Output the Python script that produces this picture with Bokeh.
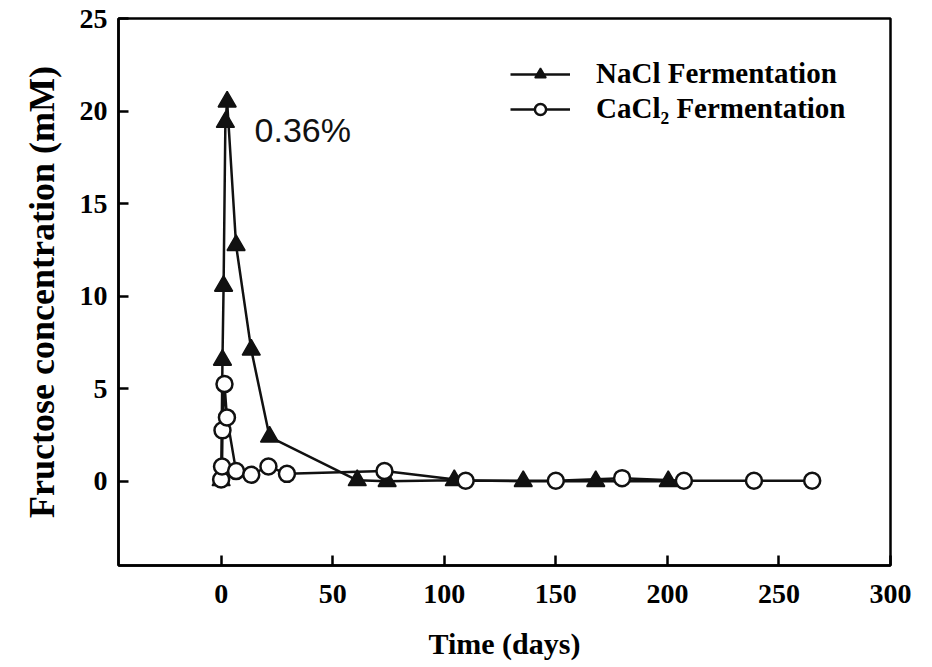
from bokeh.plotting import figure
from bokeh.models import Range1d, FixedTicker, Legend, LegendItem, Label
from bokeh.embed import file_html
from bokeh.resources import INLINE

# Fructose concentration (mM) over fermentation time (days)
nacl_days = [0, 0.6, 1.1, 1.9, 2.7, 6.7, 13.5, 21.7, 61, 74.4, 104.5, 135.4, 167.9, 200.4]
nacl_conc = [0.05, 6.55, 10.55, 19.4, 20.5, 12.75, 7.1, 2.4, 0.05, 0.0, 0.05, 0.0, 0.0, 0.0]

cacl2_days = [0, 0.4, 0.6, 1.5, 2.6, 6.7, 13.5, 21.2, 29.5, 73.2, 109.6, 150, 179.7, 207.4, 238.8, 264.9]
cacl2_conc = [0.1, 0.8, 2.75, 5.25, 3.45, 0.55, 0.35, 0.8, 0.4, 0.55, 0.03, 0.03, 0.17, 0.03, 0.03, 0.03]

x_ticks = [0, 50, 100, 150, 200, 250, 300]
y_ticks = [0, 5, 10, 15, 20, 25]

SERIF = "Liberation Serif"

p = figure(width=932, height=667, output_backend="svg", toolbar_location=None,
           x_range=Range1d(-46, 300), y_range=Range1d(-4.55, 25),
           min_border_left=118, min_border_right=42, min_border_top=18, min_border_bottom=102)

p.background_fill_color = "white"
p.border_fill_color = "white"
p.grid.visible = False
p.outline_line_color = "black"
p.outline_line_width = 2.5

for ax in (p.xaxis[0], p.yaxis[0]):
    ax.axis_line_width = 2.5
    ax.major_tick_line_width = 2.5
    ax.major_tick_in = 10
    ax.major_tick_out = 0
    ax.minor_tick_line_color = None
    ax.major_label_text_font = SERIF
    ax.major_label_text_font_style = "bold"
    ax.major_label_text_font_size = "28px"
    ax.axis_label_text_font = SERIF
    ax.axis_label_text_font_style = "bold"
    ax.major_label_text_color = "black"
    ax.axis_label_text_color = "black"

p.xaxis.ticker = FixedTicker(ticks=x_ticks)
p.yaxis.ticker = FixedTicker(ticks=y_ticks)
p.xaxis.major_label_standoff = 19
p.yaxis.major_label_standoff = 11
p.xaxis.axis_label = "Time (days)"
p.yaxis.axis_label = "Fructose concentration (mM)"
p.xaxis.axis_label_text_font_size = "30px"
p.yaxis.axis_label_text_font_size = "36px"
p.xaxis.axis_label_standoff = 21
p.yaxis.axis_label_standoff = 15

# NaCl series: filled triangles
nacl_line = p.line(nacl_days, nacl_conc, line_color="#111111", line_width=2.5)
nacl_pts = p.scatter(nacl_days, nacl_conc, marker="triangle", size=18,
                     fill_color="#111111", line_color="#111111", line_width=1.5)

# CaCl2 series: open circles
cacl2_line = p.line(cacl2_days, cacl2_conc, line_color="#111111", line_width=2.5)
cacl2_pts = p.scatter(cacl2_days, cacl2_conc, marker="circle", size=16,
                      fill_color="white", line_color="#111111", line_width=2.5)

p.add_layout(Label(x=15.0, y=19.0, text="0.36%", text_font="Liberation Sans",
                   text_font_size="34px", text_baseline="middle", text_align="left",
                   text_color="#111111"))

legend = Legend(items=[
    LegendItem(label="NaCl Fermentation", renderers=[nacl_line, nacl_pts]),
    LegendItem(label="CaCl\u2082 Fermentation", renderers=[cacl2_line, cacl2_pts]),
], location=(392, 440))
legend.label_text_font = SERIF
legend.label_text_font_style = "bold"
legend.label_text_font_size = "29px"
legend.label_text_color = "black"
legend.glyph_width = 60
legend.glyph_height = 28
legend.label_height = 28
legend.spacing = 2
legend.padding = 0
legend.margin = 0
legend.label_standoff = 26
legend.border_line_color = None
legend.background_fill_alpha = 0
p.add_layout(legend)

open("out.html", "w").write(file_html(p, INLINE))
